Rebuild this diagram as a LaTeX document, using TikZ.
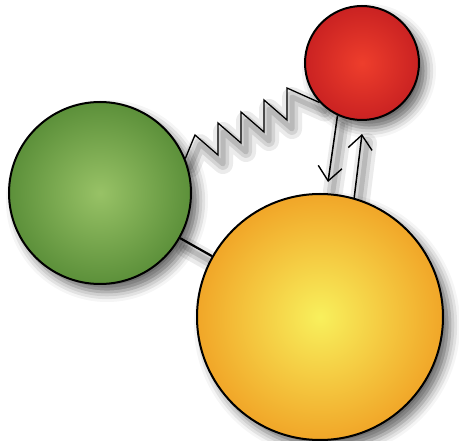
\documentclass[tikz,border=0pt]{standalone}
\usetikzlibrary{shadows.blur,arrows.meta,backgrounds}
\definecolor{gin}{RGB}{152,194,102}
\definecolor{gout}{RGB}{92,144,58}
\definecolor{yin}{RGB}{248,240,92}
\definecolor{yout}{RGB}{241,166,40}
\definecolor{rin}{RGB}{238,62,44}
\definecolor{rout}{RGB}{202,34,34}
\begin{document}
\begin{tikzpicture}[x=1pt,y=-1pt,
  ball/.style={circle, draw=black, line width=2pt, inner sep=0pt,
    blur shadow={shadow xshift=7pt, shadow yshift=-8pt, shadow blur radius=10pt, shadow opacity=60}},
  lshadow/.style={draw=none,
    preaction={draw=black, draw opacity=0.08, line width=20pt, line join=round, line cap=round, transform canvas={xshift=5pt,yshift=-9pt}},
    preaction={draw=black, draw opacity=0.10, line width=12pt, line join=round, line cap=round, transform canvas={xshift=5pt,yshift=-9pt}},
    preaction={draw=black, draw opacity=0.12, line width=5pt, line join=round, line cap=round, transform canvas={xshift=5pt,yshift=-9pt}}},
  link/.style={draw=black, line width=1.3pt},
  tip/.style={-{Straight Barb[length=14pt,width=24pt,line width=1.4pt]}}
]
\useasboundingbox (0,0) rectangle (459,441);
\node[ball, minimum size=182pt, inner color=gin, outer color=gout] (green) at (100,193) {};
\node[ball, minimum size=114pt, inner color=rin, outer color=rout] (red) at (362,63) {};
\node[ball, minimum size=246pt, inner color=yin, outer color=yout] (yellow) at (320,317) {};
\coordinate (dn) at (328,182);
\coordinate (up) at (362,134);
\begin{scope}[on background layer]
  \path[lshadow] (green) -- (yellow);
  \path[lshadow]
    (green.22) -- (195,135) -- (218,155) -- (218,123) -- (241,143) -- (241,112)
    -- (264,132) -- (264,100) -- (287,120) -- (287,88) -- (red.223);
  \path[lshadow] (red.245) -- (dn);
  \path[lshadow] (yellow.74) -- (up);
\end{scope}
\draw[link, line width=2.2pt] (green) -- (yellow);
\draw[link, line join=miter]
  (green.22) -- (195,135) -- (218,155) -- (218,123) -- (241,143) -- (241,112)
  -- (264,132) -- (264,100) -- (287,120) -- (287,88) -- (red.223);
\draw[link, tip, line width=1.5pt] (red.245) -- (dn);
\draw[link, tip, line width=1.5pt] (yellow.74) -- (up);
\end{tikzpicture}
\end{document}
